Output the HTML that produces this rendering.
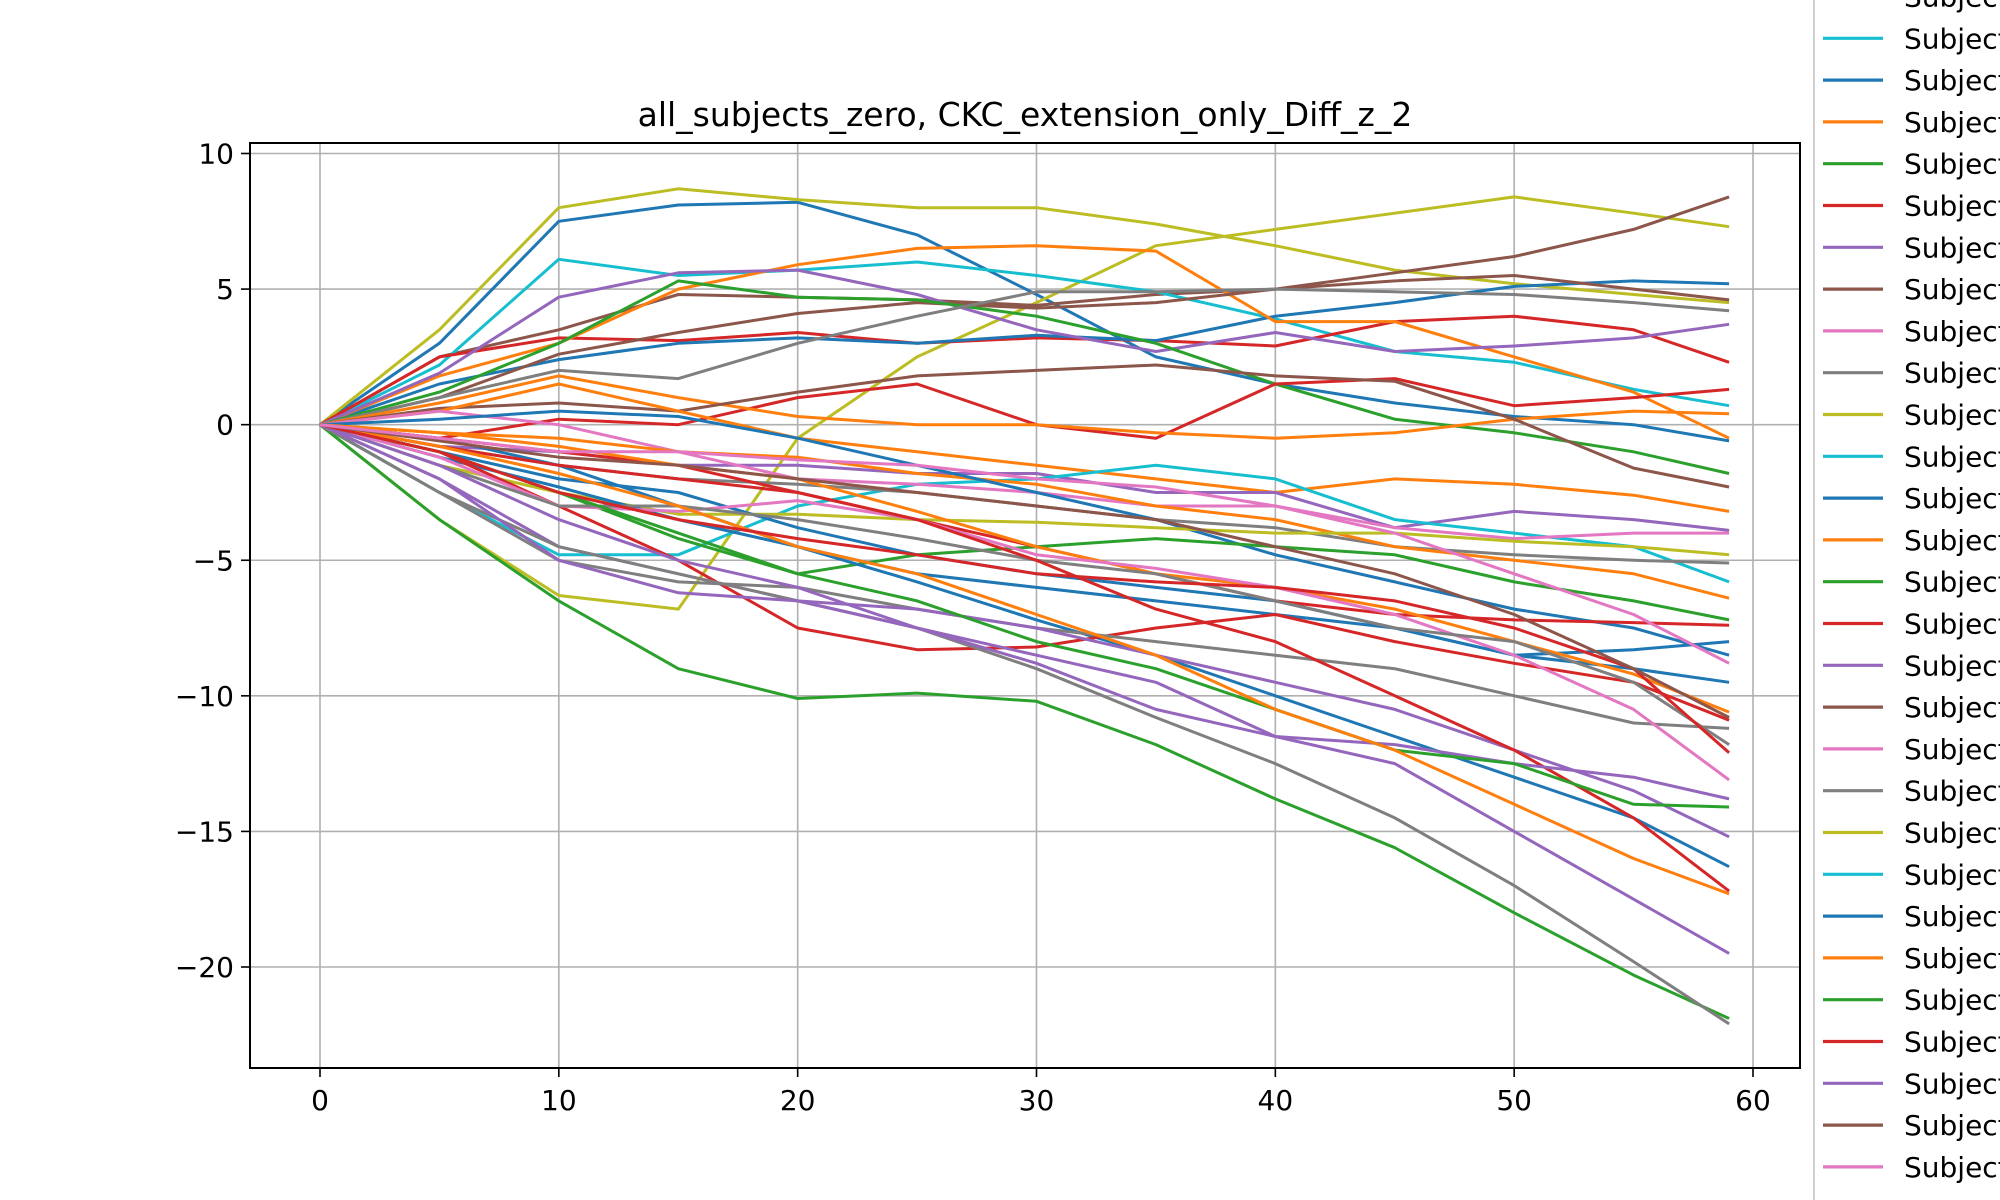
<!DOCTYPE html>
<html><head><meta charset="utf-8"><style>
html,body{margin:0;padding:0;background:#fff;width:2000px;height:1200px;overflow:hidden}
svg{display:block;overflow:hidden}
text{font-family:"DejaVu Sans","Liberation Sans",sans-serif;fill:#000}
</style></head><body>
<svg id="chart" width="2000" height="1200"></svg>
<script>
const xSteps=[0,5,10,15,20,25,30,35,40,45,50,55,59];
const xTicks=[0,10,20,30,40,50,60];
const yTicks=[10,5,0,-5,-10,-15,-20];
const yTickLabels=["10","5","0","\u22125","\u221210","\u221215","\u221220"];
const s01=[0,3,7.5,8.1,8.2,7.0,4.8,2.5,1.5,0.8,0.3,0,-0.6];
const s02=[0,3.5,8.0,8.7,8.3,8.0,8.0,7.4,6.6,5.7,5.2,4.8,4.5];
const s03=[0,-3.5,-6.3,-6.8,-0.5,2.5,4.5,6.6,7.2,7.8,8.4,7.8,7.3];
const s04=[0,2.5,3.5,4.8,4.7,4.6,4.4,4.8,5.0,5.6,6.2,7.2,8.4];
const s05=[0,2.2,6.1,5.5,5.7,6.0,5.5,4.9,3.9,2.7,2.3,1.3,0.7];
const s06=[0,2.5,3.2,3.1,3.4,3.0,3.2,3.1,2.9,3.8,4.0,3.5,2.3];
const s07=[0,1.5,2.4,3.0,3.2,3.0,3.3,3.1,4.0,4.5,5.1,5.3,5.2];
const s08=[0,1.8,3.0,5.0,5.9,6.5,6.6,6.4,3.8,3.8,2.5,1.2,-0.5];
const s09=[0,1.9,4.7,5.6,5.7,4.8,3.5,2.7,3.4,2.7,2.9,3.2,3.7];
const s10=[0,1.0,2.6,3.4,4.1,4.5,4.3,4.5,5.0,5.3,5.5,5.0,4.6];
const s11=[0,1.2,3.0,5.3,4.7,4.6,4.0,3.0,1.5,0.2,-0.3,-1.0,-1.8];
const s12=[0,1.0,2.0,1.7,3.0,4.0,4.9,4.9,5.0,4.9,4.8,4.5,4.2];
const s13=[0,-0.5,0.2,0,1.0,1.5,0,-0.5,1.5,1.7,0.7,1.0,1.3];
const s14=[0,0.8,1.8,1.0,0.3,0,0,-0.3,-0.5,-0.3,0.2,0.5,0.4];
const s15=[0,0.6,0.8,0.5,1.2,1.8,2.0,2.2,1.8,1.6,0.2,-1.6,-2.3];
const s16=[0,0.5,1.5,0.5,-0.5,-1.0,-1.5,-2.0,-2.5,-2.0,-2.2,-2.6,-3.2];
const s17=[0,-0.8,-1.0,-1.5,-1.5,-1.8,-1.8,-2.5,-2.5,-3.8,-3.2,-3.5,-3.9];
const s18=[0,-2.5,-4.8,-4.8,-3.0,-2.2,-2.0,-1.5,-2.0,-3.5,-4.0,-4.5,-5.8];
const s19=[0,0.5,0,-1.0,-2.0,-2.2,-2.5,-3.0,-3.0,-3.8,-4.2,-4.0,-4.0];
const s20=[0,-0.8,-1.5,-2.0,-2.2,-2.5,-3.0,-3.5,-3.8,-4.5,-4.8,-5.0,-5.1];
const s21=[0,-0.3,-0.5,-1.0,-1.2,-1.8,-2.2,-3.0,-3.5,-4.5,-5.0,-5.5,-6.4];
const s22=[0,0.2,0.5,0.3,-0.5,-1.5,-2.5,-3.5,-4.8,-5.8,-6.8,-7.5,-8.5];
const s23=[0,-1.5,-2.5,-3.3,-3.3,-3.5,-3.6,-3.8,-4.0,-4.0,-4.3,-4.5,-4.8];
const s24=[0,-1.0,-2.5,-4.2,-5.5,-4.8,-4.5,-4.2,-4.5,-4.8,-5.8,-6.5,-7.2];
const s25=[0,-1.2,-2.3,-3.5,-4.5,-5.5,-6.0,-6.5,-7.0,-7.5,-8.5,-8.3,-8.0];
const s26=[0,-0.5,-1.5,-3.0,-4.5,-5.8,-7.2,-8.5,-10.0,-11.5,-13.0,-14.5,-16.3];
const s27=[0,-1.0,-2.0,-2.5,-3.8,-4.8,-5.5,-6.0,-6.5,-7.5,-8.5,-9.0,-9.5];
const s28=[0,-0.5,-1.0,-1.5,-2.5,-3.5,-4.5,-5.5,-6.5,-7.0,-7.2,-7.3,-7.4];
const s29=[0,-0.3,-0.8,-1.5,-2.0,-3.2,-4.5,-5.5,-6.0,-6.8,-8.0,-9.2,-10.6];
const s30=[0,-1.0,-3.0,-5.0,-7.5,-8.3,-8.2,-7.5,-7.0,-8.0,-8.8,-9.5,-10.9];
const s31=[0,-2.5,-5.0,-5.8,-6.0,-6.8,-7.5,-8.0,-8.5,-9.0,-10.0,-11.0,-11.2];
const s32=[0,-2.0,-4.5,-5.5,-6.5,-6.8,-7.5,-8.5,-9.5,-10.5,-12.0,-13.5,-15.2];
const s33=[0,-1.2,-3.0,-3.2,-2.8,-3.5,-4.8,-5.3,-6.0,-7.0,-8.5,-10.5,-13.1];
const s34=[0,-1.5,-3.0,-3.0,-3.5,-4.2,-5.0,-5.5,-6.5,-7.5,-8.0,-9.5,-11.8];
const s35=[0,-0.8,-1.5,-2.0,-2.5,-3.5,-5.0,-6.8,-8.0,-10.0,-12.0,-14.5,-17.2];
const s36=[0,-3.5,-6.5,-9.0,-10.1,-9.9,-10.2,-11.8,-13.8,-15.6,-18.0,-20.3,-21.9];
const s37=[0,-2.5,-4.5,-5.5,-6.5,-7.5,-9.0,-10.8,-12.5,-14.5,-17.0,-19.8,-22.1];
const s38=[0,-2.0,-5.0,-6.2,-6.5,-7.5,-8.5,-9.5,-11.5,-12.5,-15.0,-17.5,-19.5];
const s39=[0,-1.5,-3.5,-5.0,-6.0,-7.5,-8.8,-10.5,-11.5,-11.8,-12.5,-13.0,-13.8];
const s40=[0,-1.0,-2.5,-4.0,-5.5,-6.5,-8.0,-9.0,-10.5,-12.0,-12.5,-14.0,-14.1];
const s41=[0,-0.8,-1.8,-3.0,-4.5,-5.5,-7.0,-8.5,-10.5,-12.0,-14.0,-16.0,-17.3];
const s42=[0,-1.0,-2.5,-3.5,-4.2,-4.8,-5.5,-5.8,-6.0,-6.5,-7.5,-9.0,-12.1];
const s43=[0,-0.6,-1.2,-1.5,-2.0,-2.5,-3.0,-3.5,-4.5,-5.5,-7.0,-9.0,-10.8];
const s44=[0,-0.5,-1.0,-1.0,-1.3,-1.5,-2.0,-2.3,-3.0,-4.0,-5.5,-7.0,-8.8];
const series=[s01,s02,s03,s04,s05,s06,s07,s08,s09,s10,s11,s12,s13,s14,s15,s16,s17,s18,s19,s20,s21,s22,s23,s24,s25,s26,s27,s28,s29,s30,s31,s32,s33,s34,s35,s36,s37,s38,s39,s40,s41,s42,s43,s44];
const seriesColors=["#1f77b4","#bcbd22","#bcbd22","#8c564b","#17becf","#d62728","#1f77b4","#ff7f0e","#9467bd","#8c564b","#2ca02c","#7f7f7f","#d62728","#ff7f0e","#8c564b","#ff7f0e","#9467bd","#17becf","#e377c2","#7f7f7f","#ff7f0e","#1f77b4","#bcbd22","#2ca02c","#1f77b4","#1f77b4","#1f77b4","#d62728","#ff7f0e","#d62728","#7f7f7f","#9467bd","#e377c2","#7f7f7f","#d62728","#2ca02c","#7f7f7f","#9467bd","#9467bd","#2ca02c","#ff7f0e","#d62728","#8c564b","#e377c2"];
const legendColors=["#bcbd22","#17becf","#1f77b4","#ff7f0e","#2ca02c","#d62728","#9467bd","#8c564b","#e377c2","#7f7f7f"];

const NS="http://www.w3.org/2000/svg";
const svg=document.getElementById('chart');
const L=250,R=1800,T=143,B=1068;
function xs(v){return 320+v*(1753-320)/60;}
function ys(v){return 153.5+(10-v)*(967-153.5)/30;}
function mk(tag,attrs,parent){const e=document.createElementNS(NS,tag);for(const k in attrs)e.setAttribute(k,attrs[k]);(parent||svg).appendChild(e);return e;}

const grid=mk('g',{});


xTicks.forEach(t=>{
  mk('line',{x1:xs(t),x2:xs(t),y1:T,y2:B,stroke:'#b0b0b0','stroke-width':1.6},grid);
  mk('line',{x1:xs(t),x2:xs(t),y1:B,y2:B+9,stroke:'#000','stroke-width':1.6});
  const lb=mk('text',{x:xs(t),y:B+42,'font-size':28,'text-anchor':'middle'});
  lb.textContent=String(t);
  
  
});
yTicks.forEach((t,i)=>{
  mk('line',{x1:L,x2:R,y1:ys(t),y2:ys(t),stroke:'#b0b0b0','stroke-width':1.6},grid);
  mk('line',{x1:L-9,x2:L,y1:ys(t),y2:ys(t),stroke:'#000','stroke-width':1.6});
  const lb=mk('text',{x:L-16,y:ys(t)+10,'font-size':28,'text-anchor':'end'});
  lb.textContent=yTickLabels[i];
  
  
});
const clip=mk('clipPath',{id:'pc'});mk('rect',{x:L,y:T,width:R-L,height:B-T},clip);
const lines=mk('g',{'clip-path':'url(#pc)'});


series.forEach((s,i)=>{
  const pts=s.map((v,j)=>xs(xSteps[j]).toFixed(1)+','+ys(v).toFixed(1)).join(' ');
  const p=mk('polyline',{points:pts,fill:'none',stroke:seriesColors[i],'stroke-width':3,'stroke-linejoin':'round'},lines);
  
  
});
const frame=mk('rect',{x:L,y:T,width:R-L,height:B-T,fill:'none',stroke:'#000','stroke-width':2});


const title=mk('text',{x:(L+R)/2,y:126,'font-size':33,'text-anchor':'middle'});
title.textContent='all_subjects_zero, CKC_extension_only_Diff_z_2';



const leg=mk('g',{});


mk('line',{x1:1814,x2:1814,y1:0,y2:1200,stroke:'#d0d0d0','stroke-width':2},leg);
for(let k=0;k<29;k++){
  const y=-3.5+41.8*k;
  const e=mk('g',{},leg);
  
  
  mk('line',{x1:1823,x2:1883,y1:y,y2:y,stroke:legendColors[k%10],'stroke-width':3.2},e);
  const t=mk('text',{x:1904,y:y+10,'font-size':28},e);
  t.textContent='Subject';
}
</script>
</body></html>
